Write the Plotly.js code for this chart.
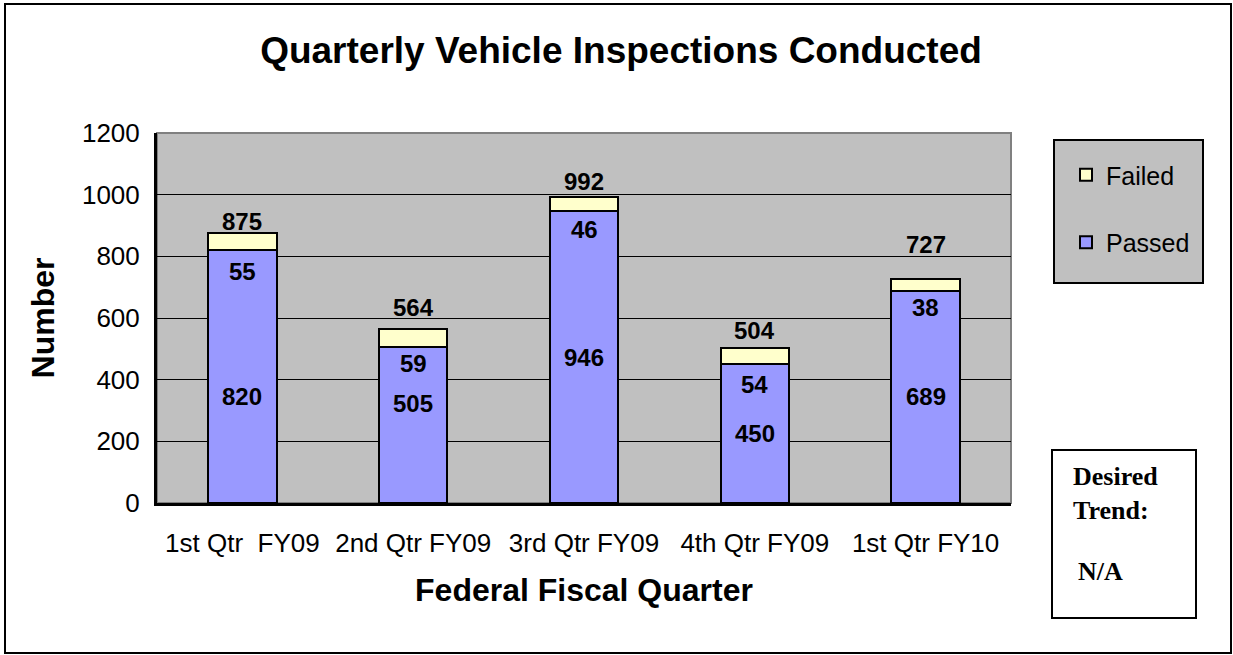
<!DOCTYPE html>
<html>
<head>
<meta charset="utf-8">
<script src="https://cdn.plot.ly/plotly-3.0.1.min.js"></script>
<style>html,body{margin:0;padding:0;background:#fff;}#chart{width:1233px;height:655px;}</style>
</head>
<body>
<div id="chart"></div>
<script>
// ---- data ----
const categories = ["1st Qtr\u00A0 FY09", "2nd Qtr FY09", "3rd Qtr FY09", "4th Qtr FY09", "1st Qtr FY10"];
const passed = [820, 505, 946, 450, 689];
const failed = [55, 59, 46, 54, 38];
const totals = [875, 564, 992, 504, 727];
const yTicks = [0, 200, 400, 600, 800, 1000, 1200];

// label pixel nudges (layout only)
const totalShift = [12, 22, 16, 17, 34];
const failedShift = [-21, -16, -18, -20, -17];
const passedShift = [-20, 22, 0, 0, 0];

const lblFont = {family: "Liberation Sans, Arial, sans-serif", size: 24, color: "#000"};
const serif = {family: "Liberation Serif, Times New Roman, serif", size: 26, color: "#000"};
const annotations = [];
categories.forEach((c, i) => {
  annotations.push({x: c, y: totals[i], text: "<b>" + totals[i] + "</b>", showarrow: false, yshift: totalShift[i], font: lblFont, xref: "x", yref: "y"});
  annotations.push({x: c, y: passed[i], text: "<b>" + failed[i] + "</b>", showarrow: false, yshift: failedShift[i], font: lblFont, xref: "x", yref: "y"});
  annotations.push({x: c, y: passed[i] / 2, text: "<b>" + passed[i] + "</b>", showarrow: false, yshift: passedShift[i], font: lblFont, xref: "x", yref: "y"});
});

const px = v => (v - 157) / 854; // helpers for paper coords of decorations
const py = v => (503 - v) / 370;

annotations.push({xref: "paper", yref: "paper", x: px(1071), y: py(493), xanchor: "left", yanchor: "middle", align: "left", showarrow: false,
  text: "<b>Desired<br>Trend:</b>", font: serif});
annotations.push({xref: "paper", yref: "paper", x: px(1076), y: py(571), xanchor: "left", yanchor: "middle", showarrow: false,
  text: "<b>N/A</b>", font: serif});

const traces = [
  {type: "bar", name: "Passed", x: categories, y: passed, legendrank: 2, legendgroup: "g2",
   marker: {color: "#9999FF", line: {color: "#000", width: 2}}, hoverinfo: "x+y"},
  {type: "bar", name: "Failed", x: categories, y: failed, legendrank: 1, legendgroup: "g1",
   marker: {color: "#FFFFCC", line: {color: "#000", width: 2}}, hoverinfo: "x+y"}
];

const layout = {
  width: 1233, height: 655,
  margin: {l: 157, r: 222, t: 133, b: 152},
  paper_bgcolor: "#fff",
  plot_bgcolor: "#C0C0C0",
  barmode: "stack",
  bargap: 0.6,
  font: {family: "Liberation Sans, Arial, sans-serif", color: "#000"},
  title: {text: "<b>Quarterly Vehicle Inspections Conducted</b>", font: {size: 37, color: "#000"},
          x: 621 / 1233, xanchor: "center", xref: "container", y: 1 - 50 / 655, yanchor: "middle", yref: "container"},
  xaxis: {
    showgrid: false, showline: true, linecolor: "#000", linewidth: 3,
    tickfont: {size: 26}, ticklabelstandoff: 15,
    title: {text: "<b>Federal Fiscal Quarter</b>", font: {size: 32}, standoff: 22}
  },
  yaxis: {
    range: [0, 1200], tickvals: yTicks, ticktext: yTicks.map(String),
    showgrid: true, gridcolor: "#000", gridwidth: 1,
    showline: true, linecolor: "#000", linewidth: 3, zeroline: false,
    tickfont: {size: 26}, ticklabelstandoff: 9,
    title: {text: "<b>Number</b>", font: {size: 32}, standoff: 18}
  },
  legend: {
    x: px(1066), y: py(152), xanchor: "left", yanchor: "top",
    bgcolor: "rgba(0,0,0,0)", borderwidth: 0,
    font: {size: 25}, traceorder: "grouped", tracegroupgap: 32,
    itemwidth: 30
  },
  shapes: [
    {type: "rect", xref: "paper", yref: "paper", x0: 0, x1: 1, y0: 0, y1: 1, line: {color: "#808080", width: 2}, layer: "below"},
    {type: "rect", xref: "paper", yref: "paper", x0: px(1054), x1: px(1203), y0: py(140), y1: py(283), line: {color: "#000", width: 2}, fillcolor: "#C0C0C0", layer: "below"},
    {type: "rect", xref: "paper", yref: "paper", x0: px(1052), x1: px(1196), y0: py(450), y1: py(618), line: {color: "#000", width: 2}, fillcolor: "rgba(0,0,0,0)"},
    {type: "rect", xref: "paper", yref: "paper", x0: px(5), x1: px(1231), y0: py(4), y1: py(653), line: {color: "#000", width: 2}, fillcolor: "rgba(0,0,0,0)"}
  ],
  annotations: annotations,
  showlegend: true
};

Plotly.newPlot("chart", traces, layout, {displayModeBar: false, staticPlot: true});
</script>
</body>
</html>
